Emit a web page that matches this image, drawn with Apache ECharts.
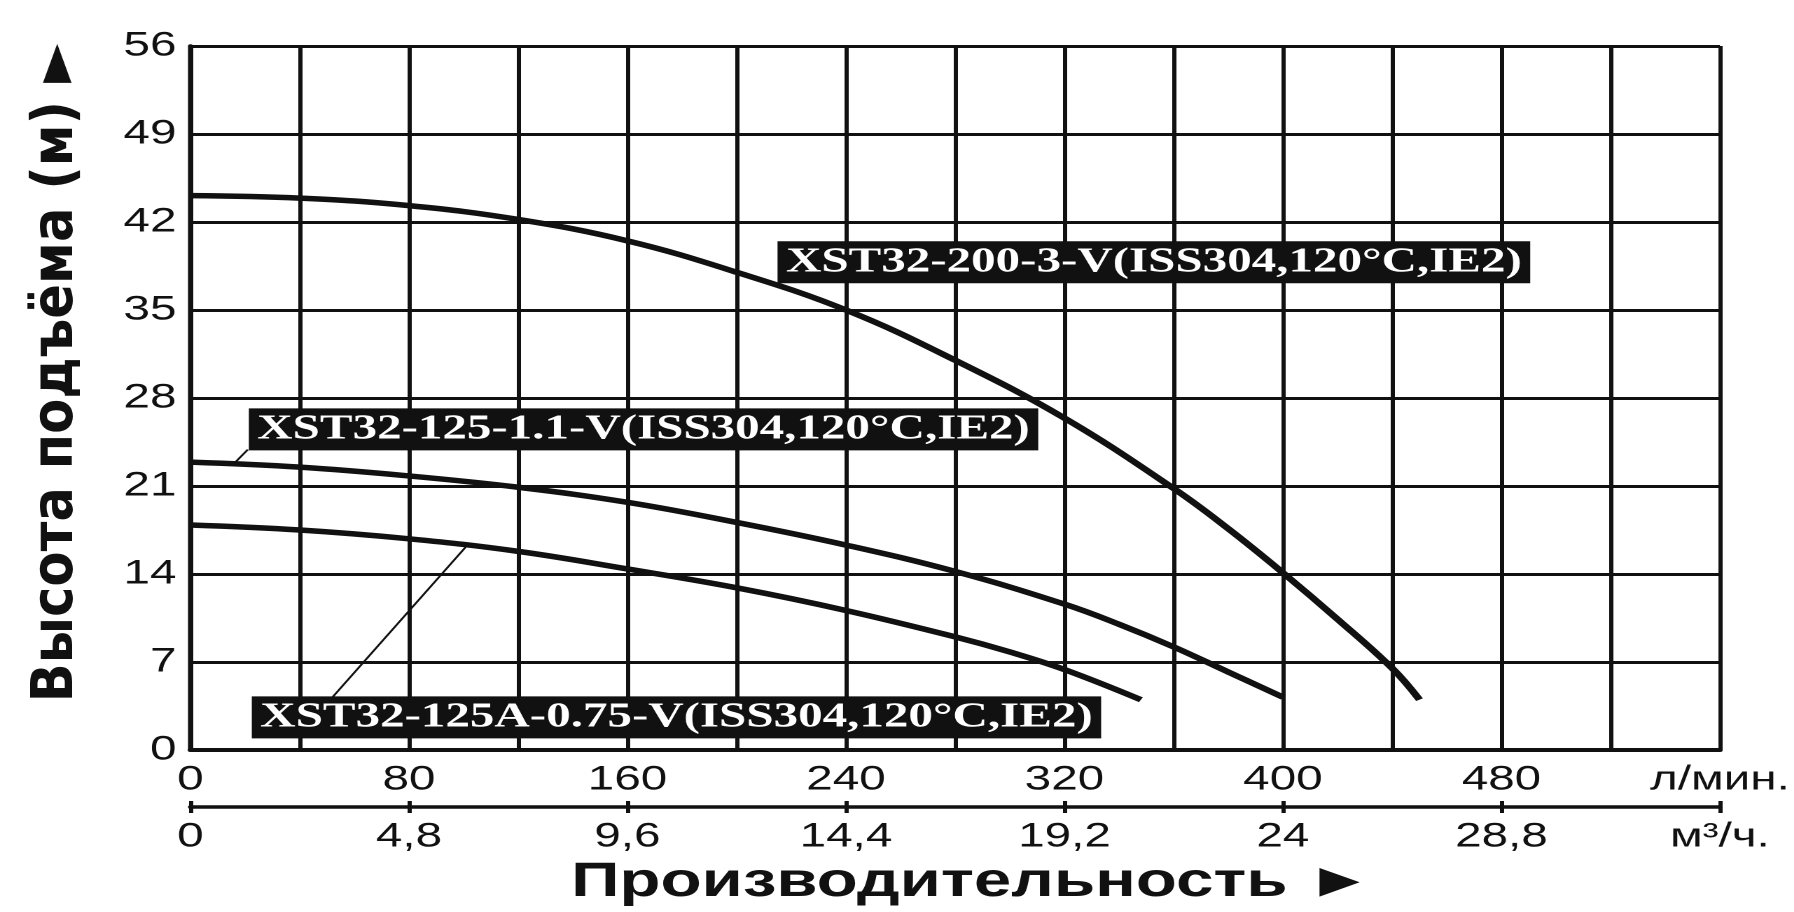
<!DOCTYPE html>
<html>
<head>
<meta charset="utf-8">
<script src="https://cdn.jsdelivr.net/npm/echarts@6/dist/echarts.min.js"></script>
<style>
  html, body { margin: 0; padding: 0; background: #fff; overflow: hidden; }
  /* the reference is a horizontally stretched scan, so the chart is stretched the same way */
  #main { width: 1281px; height: 912px; transform: scaleX(1.4005); transform-origin: 0 0; }
</style>
</head>
<body>
<div id="main"></div>
<script>
// pump curves, flow in l/min, head in m
var flowA = [0, 40, 80, 120, 160, 200, 240, 280, 320, 360, 380, 400, 420, 440, 450];
var headA = [44.1, 43.9, 43.3, 42.2, 40.5, 38.0, 35.0, 31.0, 26.4, 20.8, 17.6, 14.1, 10.4, 6.5, 4.0];

var flowB = [0, 40, 80, 120, 160, 200, 240, 280, 320, 340, 360, 380, 400];
var headB = [22.9, 22.5, 21.8, 20.9, 19.7, 18.1, 16.3, 14.2, 11.6, 10.0, 8.2, 6.2, 4.2];

var flowC = [0, 40, 80, 120, 160, 200, 240, 280, 300, 320, 348];
var headC = [17.9, 17.5, 16.8, 15.8, 14.4, 12.9, 11.1, 9.0, 7.8, 6.4, 4.0];

var seriesNames = [
  'XST32-200-3-V(ISS304,120°C,IE2)',
  'XST32-125-1.1-V(ISS304,120°C,IE2)',
  'XST32-125A-0.75-V(ISS304,120°C,IE2)'
];

// tick labels
var lpmLabels = ['0', '80', '160', '240', '320', '400', '480', 'л/мин.'];
var m3hLabels = ['0', '4,8', '9,6', '14,4', '19,2', '24', '28,8', 'м³/ч.'];

// where the black name boxes sit (left edge flow, centre head)
var boxAt = [[214.7, 38.8], [21.1, 25.5], [22.2, 2.6]];
// thin leader lines from box to curve
var leaderB = [[21, 23.9], [16, 22.8]];
var leaderC = [[52, 4.2], [101, 16.2]];

function zip(xs, ys) {
  var out = [];
  for (var i = 0; i < xs.length; i++) out.push([xs[i], ys[i]]);
  return out;
}

var ink = '#111';

function boxLabel(i) {
  return {
    symbol: 'rect',
    symbolSize: 1,
    itemStyle: { color: 'rgba(0,0,0,0)' },
    label: {
      show: true,
      position: 'right',
      distance: 0,
      formatter: seriesNames[i],
      color: '#fff',
      backgroundColor: ink,
      fontFamily: 'Liberation Serif',
      fontWeight: 'bold',
      fontSize: 35,
      lineHeight: 36,
      padding: [3, 6]
    },
    data: [{ coord: boxAt[i] }]
  };
}

function leader(pts) {
  return {
    silent: true,
    symbol: ['none', 'none'],
    label: { show: false },
    lineStyle: { color: ink, width: 1.6, type: 'solid' },
    data: [[{ coord: pts[0] }, { coord: pts[1] }]]
  };
}

function curve(i, xs, ys) {
  return {
    name: seriesNames[i],
    type: 'line',
    data: zip(xs, ys),
    smooth: 0.4,
    showSymbol: false,
    lineStyle: { color: ink, width: 5.5 }
  };
}

var chart = echarts.init(document.getElementById('main'), null, { devicePixelRatio: 2 });

var sA = curve(0, flowA, headA);
sA.markPoint = boxLabel(0);
var sB = curve(1, flowB, headB);
sB.markPoint = boxLabel(1);
sB.markLine = leader(leaderB);
var sC = curve(2, flowC, headC);
sC.markPoint = boxLabel(2);
sC.markLine = leader(leaderC);

var option = {
  backgroundColor: '#fff',
  animation: false,
  grid: { left: 136, right: 46, top: 46, bottom: 162 },
  // vertical axis title, stretched along its reading direction like the scan
  graphic: [
    {
      type: 'text',
      x: 41,
      y: 373,
      rotation: Math.PI / 2,
      scaleX: 1.25,
      style: {
        text: 'Высота подъёма (м) ►',
        fill: ink,
        font: 'bold 41px "DejaVu Sans"',
        align: 'center',
        verticalAlign: 'middle'
      }
    }
  ],
  xAxis: [
    {
      type: 'value',
      min: 0,
      max: 560,
      interval: 40,
      axisLine: { show: true, lineStyle: { color: ink, width: 4 } },
      axisTick: { show: false },
      splitLine: { show: true, lineStyle: { color: ink, width: 3 } },
      axisLabel: {
        margin: 13,
        color: ink,
        fontFamily: 'Liberation Sans',
        fontSize: 34,
        formatter: function (v) { return v % 80 === 0 ? lpmLabels[v / 80] : ''; }
      }
    },
    {
      type: 'value',
      min: 0,
      max: 560,
      interval: 80,
      position: 'bottom',
      offset: 57,
      axisLine: { show: true, lineStyle: { color: ink, width: 3.5 } },
      axisTick: { show: true, length: 6, lineStyle: { color: ink, width: 3 } },
      splitLine: { show: false },
      axisLabel: {
        margin: 13,
        color: ink,
        fontFamily: 'Liberation Sans',
        fontSize: 34,
        formatter: function (v) { return m3hLabels[Math.round(v / 80)]; }
      },
      name: 'Производительность ►',
      nameLocation: 'middle',
      nameGap: 50,
      nameTextStyle: {
        color: ink,
        fontFamily: 'Liberation Sans',
        fontWeight: 'bold',
        fontSize: 48,
        padding: [0, 0, 0, 24]
      }
    },
    {
      type: 'value',
      min: 0,
      max: 560,
      interval: 80,
      position: 'bottom',
      offset: 57,
      axisLine: { show: false },
      axisTick: { show: true, inside: true, length: 6, lineStyle: { color: ink, width: 3 } },
      splitLine: { show: false },
      axisLabel: { show: false }
    }
  ],
  yAxis: {
    type: 'value',
    min: 0,
    max: 56,
    interval: 7,
    axisLine: { show: true, lineStyle: { color: ink, width: 3.5 } },
    axisTick: { show: false },
    splitLine: { show: true, lineStyle: { color: ink, width: 3 } },
    axisLabel: {
      margin: 10,
      color: ink,
      fontFamily: 'Liberation Sans',
      fontSize: 34
    }
  },
  series: [sA, sB, sC]
};

chart.setOption(option);
</script>
</body>
</html>
